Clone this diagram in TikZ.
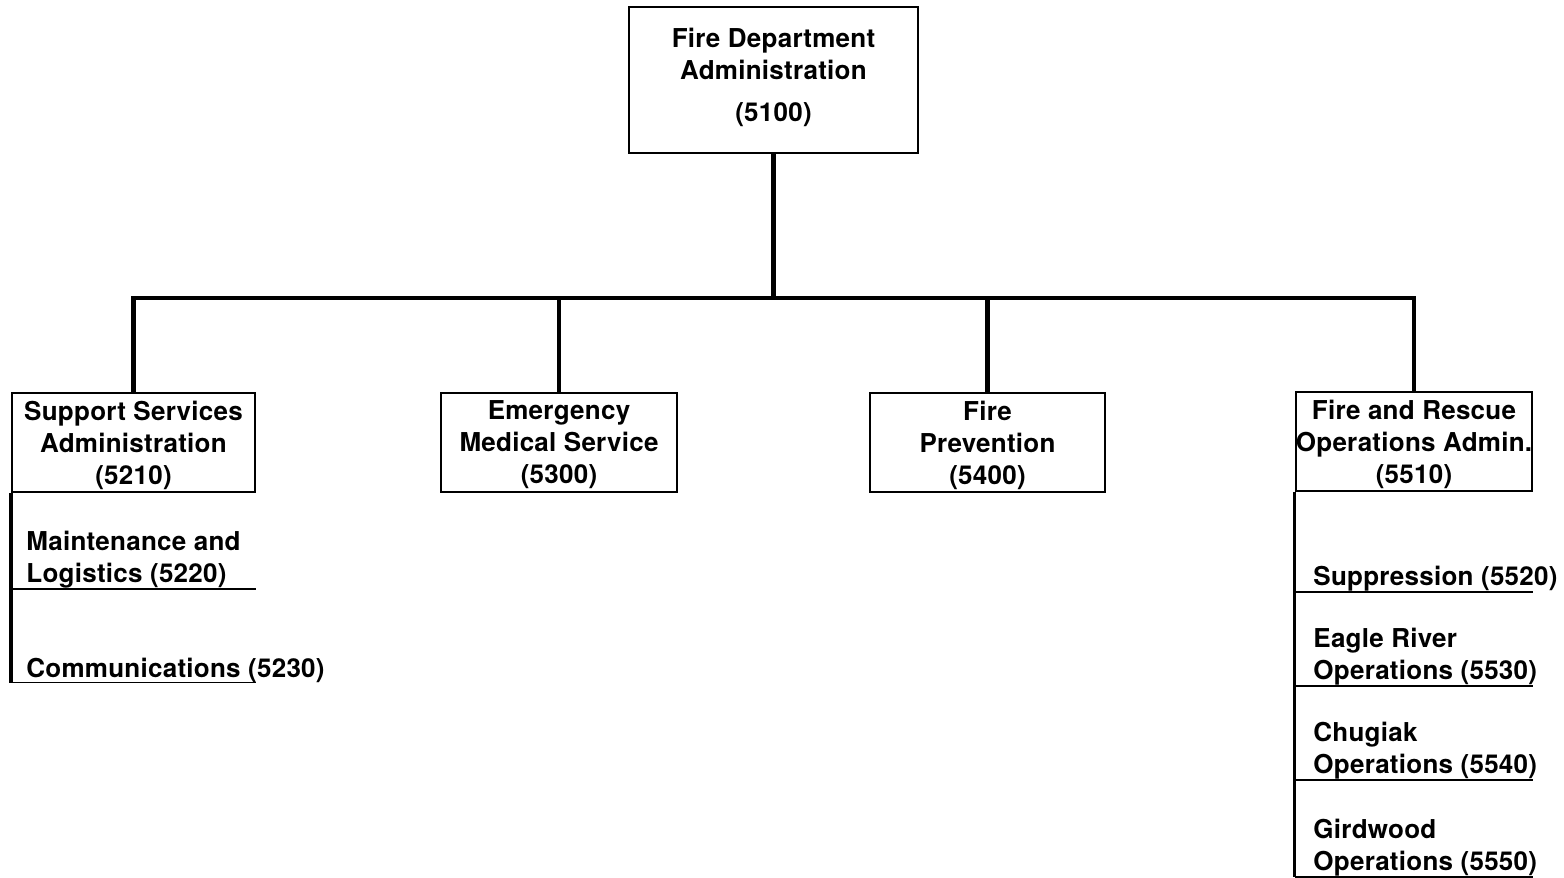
\documentclass[tikz,border=0pt]{standalone}
\usepackage{fontspec}
\setmainfont{TeX Gyre Heros}[LetterSpace=1]
\usetikzlibrary{positioning}

\begin{document}
\begin{tikzpicture}[x=0.5pt,y=-0.5pt,
	unit/.style={draw, line width=1.2pt, align=center, inner sep=0pt, text depth=0pt,
		font=\fontsize{13}{16}\selectfont\bfseries},
	sub/.style={align=left, anchor=west, inner sep=0pt,
		font=\fontsize{13}{16}\selectfont\bfseries},
	link/.style={line width=2.4pt},
	spine/.style={line width=1.8pt},
	rule/.style={line width=0.8pt}]
	\useasboundingbox (0,0) rectangle (1564,878);
	% top unit
	\node[unit, minimum width=144.5pt, minimum height=73pt, text depth=5pt] (fda) at (773.5,80)
		{Fire Department\\Administration\\[5pt](5100)};
	% divisions
	\node[unit, minimum width=121.5pt, minimum height=49.5pt] (ssa) at (133.5,442.5)
		{Support Services\\Administration\\(5210)};
	\node[unit, minimum width=118pt, minimum height=49.5pt] (ems) at (559,442.5)
		{Emergency\\Medical Service\\(5300)};
	\node[unit, minimum width=117.5pt, minimum height=49.5pt] (fpr) at (987.5,442.5)
		{Fire\\Prevention\\(5400)};
	\node[unit, minimum width=118pt, minimum height=49.5pt] (fro) at (1414,441.5)
		{Fire and Rescue\\Operations Admin.\\(5510)};
	\coordinate (bus) at (0,298);
	\draw[link] (fda.south) -- (fda.south |- bus);
	\draw[link] (ssa.north) -- (ssa.north |- bus) -- (fro.north |- bus) -- (fro.north);
	\foreach \n in {ems,fpr}
		\draw[link] (\n.north |- bus) -- (\n.north);
	% support services sections
	\node[sub] (mnt) at (26,560) {Maintenance and\\Logistics (5220)};
	\node[sub] (com) at (26,670) {Communications (5230)};
	\draw[spine] (ssa.south west) -- (ssa.south west |- com.south);
	\foreach \n in {mnt,com}
		\draw[rule] (ssa.south west |- \n.south) -- (ssa.south east |- \n.south);
	% operations sections
	\node[sub] (sup) at (1313,579) {Suppression (5520)};
	\node[sub] (eri) at (1313,657) {Eagle River\\Operations (5530)};
	\node[sub] (chu) at (1313,751) {Chugiak\\Operations (5540)};
	\node[sub] (gir) at (1313,848) {Girdwood\\Operations (5550)};
	\draw[spine] (fro.south west) -- (fro.south west |- gir.south);
	\foreach \n in {sup,eri,chu,gir}
		\draw[rule] (fro.south west |- \n.south) -- (fro.south east |- \n.south);
\end{tikzpicture}
\end{document}
